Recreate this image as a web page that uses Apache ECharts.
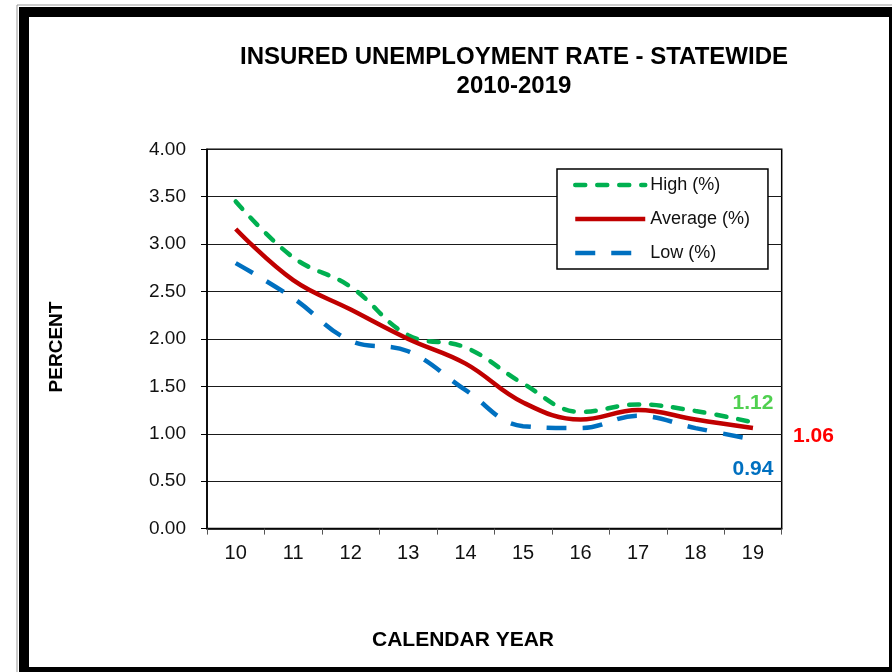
<!DOCTYPE html>
<html>
<head>
<meta charset="utf-8">
<script src="https://cdn.jsdelivr.net/npm/echarts@6/dist/echarts.min.js"></script>
<style>
html,body{margin:0;padding:0;background:#fff;}
#chart{width:892px;height:672px;}
</style>
</head>
<body>
<div id="chart"></div>
<script>
// ---- data ----
var years = ['10','11','12','13','14','15','16','17','18','19'];
var highVals = [3.45, 2.86, 2.55, 2.04, 1.91, 1.53, 1.23, 1.31, 1.24, 1.12];
var avgVals  = [3.16, 2.62, 2.31, 2.00, 1.74, 1.33, 1.15, 1.25, 1.15, 1.06];
var lowVals  = [2.80, 2.43, 1.98, 1.87, 1.46, 1.08, 1.06, 1.19, 1.06, 0.94];
var yTicks = ['0.00','0.50','1.00','1.50','2.00','2.50','3.00','3.50','4.00'];
var seriesNames = ['High (%)', 'Average (%)', 'Low (%)'];
var titleLines = ['INSURED UNEMPLOYMENT RATE - STATEWIDE', '2010-2019'];
var xName = 'CALENDAR YEAR';
var yName = 'PERCENT';

var FONT = 'Arial, "Liberation Sans", sans-serif';

var highLine = { color: '#00B050', width: 4.5, type: [10, 12], cap: 'round' };
var avgLine  = { color: '#C00000', width: 4.5, type: 'solid' };
var lowLine  = { color: '#0070C0', width: 4.5, type: [20, 16], cap: 'butt' };

function withEndLabel(vals, labelCfg) {
  return vals.map(function (v, i) {
    if (i === vals.length - 1) {
      return { value: v, label: Object.assign({ show: true, fontFamily: FONT, fontWeight: 'bold', fontSize: 21,
        formatter: function (p) { return p.value.toFixed(2); } }, labelCfg) };
    }
    return v;
  });
}

var chart = echarts.init(document.getElementById('chart'), null, { renderer: 'canvas' });

var option = {
  animation: false,
  backgroundColor: '#fff',
  grid: { left: 207, top: 149.3, right: 110.3, bottom: 143.4, show: true, borderColor: '#000', borderWidth: 1.5, backgroundColor: 'transparent' },
  legend: {
    data: [
      { name: seriesNames[0], lineStyle: highLine },
      { name: seriesNames[1], lineStyle: avgLine },
      { name: seriesNames[2], lineStyle: lowLine }
    ],
    orient: 'vertical',
    left: 557, top: 169,
    padding: [7, 18, 7, 16],
    itemWidth: 70, itemHeight: 14, itemGap: 16, itemTextGap: 10,
    itemStyle: { opacity: 0 },
    backgroundColor: '#fff', borderColor: '#000', borderWidth: 1.5,
    textStyle: { fontFamily: FONT, fontSize: 18, color: '#111' }
  },
  xAxis: {
    type: 'category',
    data: years,
    boundaryGap: true,
    axisLine: { lineStyle: { color: '#000', width: 1.5 } },
    axisTick: { show: true, length: 6, lineStyle: { color: '#555' } },
    axisLabel: { fontFamily: FONT, fontSize: 20, color: '#111', margin: 15 },
    splitLine: { show: false }
  },
  yAxis: {
    type: 'value',
    min: 0, max: 4, interval: 0.5,
    axisLine: { show: true, lineStyle: { color: '#000', width: 1.5 } },
    axisTick: { show: true, length: 6, lineStyle: { color: '#000' } },
    axisLabel: { fontFamily: FONT, fontSize: 19, color: '#111', margin: 21,
      formatter: function (v) { return yTicks[Math.round(v / 0.5)]; } },
    splitLine: { show: true, lineStyle: { color: '#1a1a1a', width: 1.2 } }
  },
  series: [
    {
      name: seriesNames[0], type: 'line', data: withEndLabel(highVals, { position: 'top', distance: 9, color: '#50D050' }),
      smooth: 0.4, symbol: 'circle', symbolSize: 0, showSymbol: true, z: 3,
      lineStyle: highLine,
      itemStyle: { color: '#00B050' }
    },
    {
      name: seriesNames[1], type: 'line', data: withEndLabel(avgVals, { position: 'right', distance: 40, offset: [0, 8], color: '#FF0000' }),
      smooth: 0.4, symbol: 'circle', symbolSize: 0, showSymbol: true, z: 4,
      lineStyle: avgLine,
      itemStyle: { color: '#C00000' }
    },
    {
      name: seriesNames[2], type: 'line', data: withEndLabel(lowVals, { position: 'bottom', distance: 19, color: '#0070C0' }),
      smooth: 0.4, symbol: 'circle', symbolSize: 0, showSymbol: true, z: 3,
      lineStyle: lowLine,
      itemStyle: { color: '#0070C0' }
    }
  ],
  graphic: [
    // outer frame
    { type: 'rect', shape: { x: 17, y: 5, width: 900, height: 700 }, style: { fill: 'none', stroke: '#999', lineWidth: 1 }, silent: true },
    { type: 'rect', shape: { x: 19, y: 7, width: 880, height: 10 }, style: { fill: '#000' }, silent: true },
    { type: 'rect', shape: { x: 19, y: 7, width: 10, height: 670 }, style: { fill: '#000' }, silent: true },
    { type: 'rect', shape: { x: 889, y: 7, width: 10, height: 670 }, style: { fill: '#000' }, silent: true },
    { type: 'rect', shape: { x: 19, y: 667, width: 880, height: 10 }, style: { fill: '#000' }, silent: true },
    // titles
    { type: 'text', x: 514, y: 57, style: { text: titleLines[0], fontFamily: FONT, fontWeight: 'bold', fontSize: 24, fill: '#000', textAlign: 'center', textVerticalAlign: 'middle' } },
    { type: 'text', x: 514, y: 86, style: { text: titleLines[1], fontFamily: FONT, fontWeight: 'bold', fontSize: 24, fill: '#000', textAlign: 'center', textVerticalAlign: 'middle' } },
    { type: 'text', x: 463, y: 640, style: { text: xName, fontFamily: FONT, fontWeight: 'bold', fontSize: 21, fill: '#000', textAlign: 'center', textVerticalAlign: 'middle' } },
    { type: 'text', x: 57, y: 347, rotation: Math.PI / 2, style: { text: yName, fontFamily: FONT, fontWeight: 'bold', fontSize: 19, fill: '#000', textAlign: 'center', textVerticalAlign: 'middle' } }
  ]
};
chart.setOption(option);
</script>
</body>
</html>
